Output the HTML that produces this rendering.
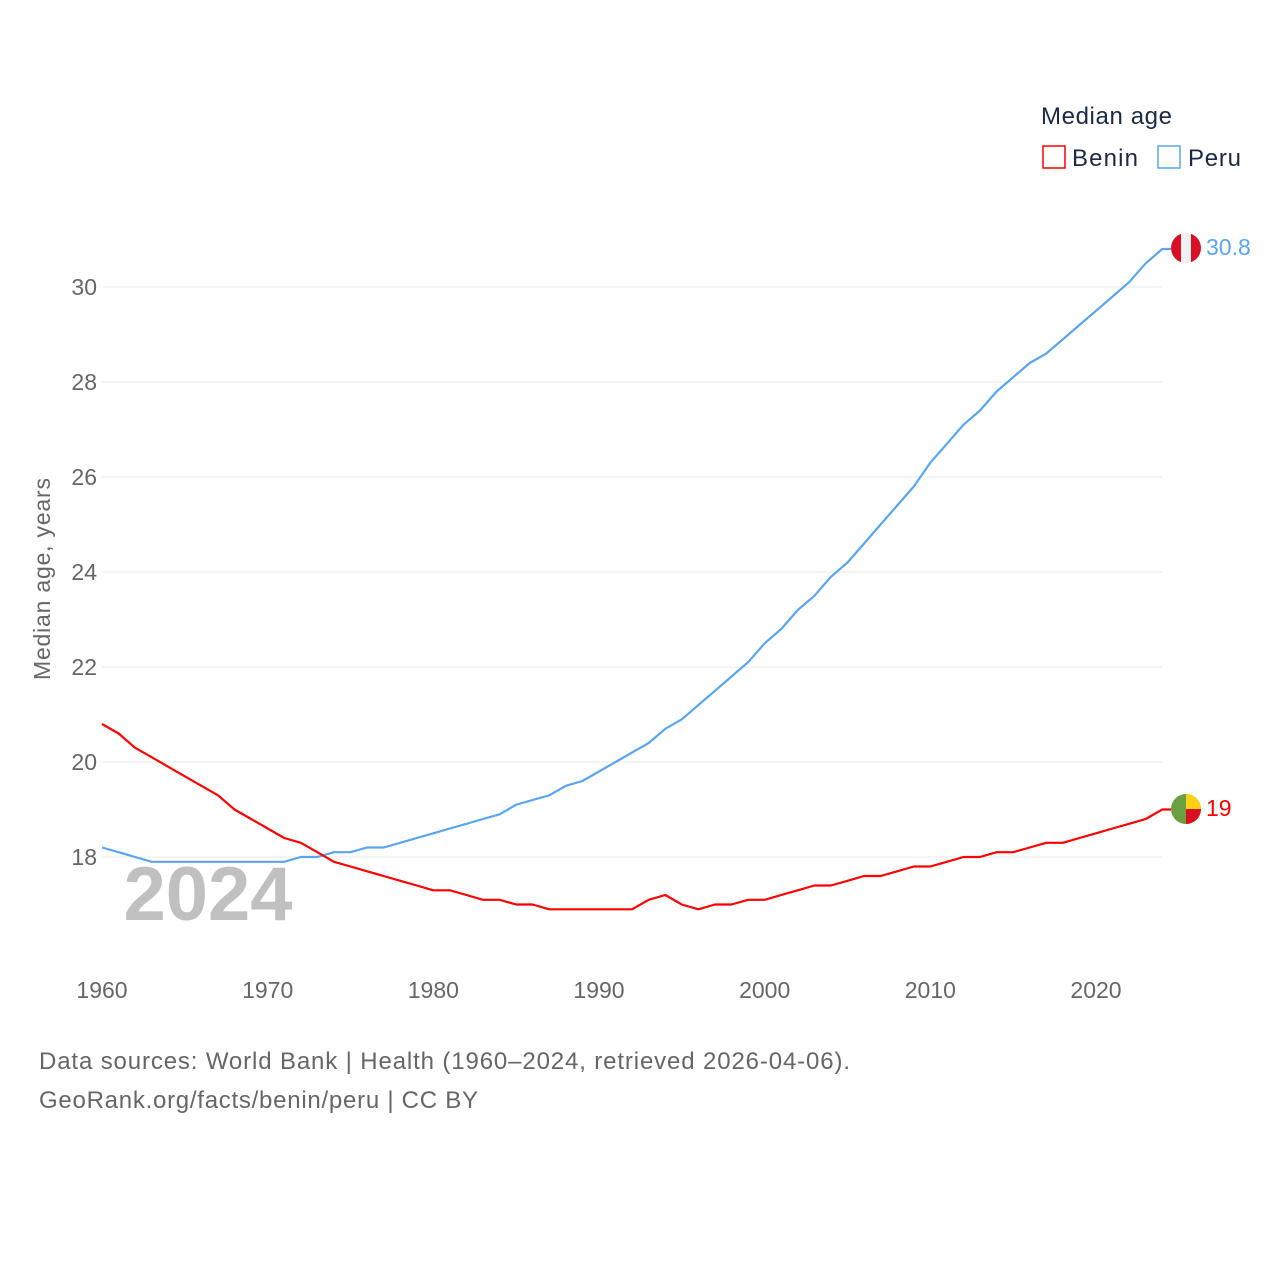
<!DOCTYPE html>
<html><head><meta charset="utf-8"><style>
body{margin:0;background:#fff;font-family:"Liberation Sans",sans-serif}
svg text{font-family:"Liberation Sans",sans-serif}
</style></head><body>
<svg id="chart" width="1280" height="1280" viewBox="0 0 1280 1280">
<g id="grid"></g>
<g id="yticks"></g>
<g id="xticks"></g>
<text x="208" y="920" font-size="76" font-weight="bold" fill="#c0c0c0" text-anchor="middle">2024</text>
<text transform="translate(50,579) rotate(-90)" font-size="23" fill="#666" text-anchor="middle" textLength="202">Median age, years</text>
<g id="series"></g>
<g>
<text x="1041" y="124" font-size="24" fill="#1a2a44" textLength="131">Median age</text>
<g><rect x="1043" y="146" width="22" height="22" fill="none" stroke="#ff0000" stroke-width="1.5"/><text x="1072" y="166" font-size="24" fill="#1a2a44" textLength="66">Benin</text></g>
<g><rect x="1158" y="146" width="22" height="22" fill="none" stroke="#5aa5ec" stroke-width="1.5"/><text x="1188" y="166" font-size="24" fill="#1a2a44" textLength="53">Peru</text></g>
</g>
<g>
<clipPath id="cp"><circle cx="1186" cy="248" r="15"/></clipPath>
<g clip-path="url(#cp)"><rect x="1171" y="233" width="30" height="30" fill="#f0f0f0"/><rect x="1171" y="233" width="10" height="30" fill="#d91023"/><rect x="1191" y="233" width="10" height="30" fill="#d91023"/></g>
<text x="1206" y="255" font-size="23" fill="#5aa5ec">30.8</text>
</g>
<g>
<clipPath id="cb"><circle cx="1186" cy="809" r="15"/></clipPath>
<g clip-path="url(#cb)"><rect x="1171" y="794" width="30" height="30" fill="#6aa040"/><rect x="1186" y="794" width="15" height="15" fill="#fcd116"/><rect x="1186" y="809" width="15" height="15" fill="#d91023"/></g>
<text x="1206" y="816" font-size="23" fill="#ff0000">19</text>
</g>
<text x="39" y="1069" font-size="24" fill="#666" textLength="811">Data sources: World Bank | Health (1960–2024, retrieved 2026-04-06).</text>
<text x="39" y="1108" font-size="24" fill="#666" textLength="439">GeoRank.org/facts/benin/peru | CC BY</text>
</svg>
<script>
const years=[];for(let y=1960;y<=2024;y++)years.push(y);
const benin=[20.8,20.6,20.3,20.1,19.9,19.7,19.5,19.3,19.0,18.8,18.6,18.4,18.3,18.1,17.9,17.8,17.7,17.6,17.5,17.4,17.3,17.3,17.2,17.1,17.1,17.0,17.0,16.9,16.9,16.9,16.9,16.9,16.9,17.1,17.2,17.0,16.9,17.0,17.0,17.1,17.1,17.2,17.3,17.4,17.4,17.5,17.6,17.6,17.7,17.8,17.8,17.9,18.0,18.0,18.1,18.1,18.2,18.3,18.3,18.4,18.5,18.6,18.7,18.8,19.0];
const peru=[18.2,18.1,18.0,17.9,17.9,17.9,17.9,17.9,17.9,17.9,17.9,17.9,18.0,18.0,18.1,18.1,18.2,18.2,18.3,18.4,18.5,18.6,18.7,18.8,18.9,19.1,19.2,19.3,19.5,19.6,19.8,20.0,20.2,20.4,20.7,20.9,21.2,21.5,21.8,22.1,22.5,22.8,23.2,23.5,23.9,24.2,24.6,25.0,25.4,25.8,26.3,26.7,27.1,27.4,27.8,28.1,28.4,28.6,28.9,29.2,29.5,29.8,30.1,30.5,30.8];
const yTickVals=[18,20,22,24,26,28,30];
const xTickVals=[1960,1970,1980,1990,2000,2010,2020];
const NS='http://www.w3.org/2000/svg';
const xs=y=>102+(y-1960)*(994/60);
const ys=v=>762-(v-20)*47.5;
const mk=(t,a,p)=>{const e=document.createElementNS(NS,t);for(const k in a)e.setAttribute(k,a[k]);p.appendChild(e);return e;};
const grid=document.getElementById('grid'),yt=document.getElementById('yticks'),xt=document.getElementById('xticks'),se=document.getElementById('series');
yTickVals.forEach(v=>{
 const l=mk('line',{x1:102,x2:1162,y1:ys(v),y2:ys(v),stroke:'#e8e8e8','stroke-width':1},grid);
 
 
 const t=mk('text',{x:97,y:ys(v)+8,'font-size':23,fill:'#666','text-anchor':'end'},yt);
 t.textContent=v;
 
 
});
xTickVals.forEach(v=>{
 const t=mk('text',{x:xs(v),y:998,'font-size':23,fill:'#666','text-anchor':'middle'},xt);
 t.textContent=v;
 
 
});
function line(vals,color,name){
 let d=vals.map((v,i)=>(i?'L':'M')+xs(years[i]).toFixed(1)+' '+ys(v).toFixed(1)).join(' ');
 d+=' L1171 '+ys(vals[vals.length-1]).toFixed(1);
 const p=mk('path',{d:d,fill:'none',stroke:color,'stroke-width':2.2,'stroke-linejoin':'round'},se);
 
 
}
line(peru,'#5aa5ec','peru-line');
line(benin,'#ff0000','benin-line');
</script>
</body></html>
